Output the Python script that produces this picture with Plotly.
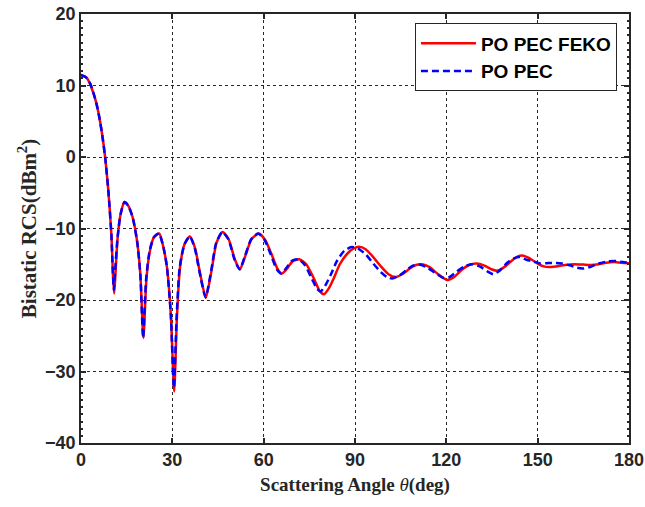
import plotly.graph_objects as go

# PO PEC FEKO (red, solid)
feko_theta = [0, 1, 2, 3, 4, 5, 6, 7, 8, 9, 10, 10.5, 10.9, 11.3, 12, 13, 14.3, 15.5, 17,
              18.5, 19.5, 20.5, 21.5, 22.7, 24, 25.7, 27, 28.2, 29.5, 30.6, 31.5, 32.5,
              34, 35.8, 37.5, 38.9, 41, 42.9, 44.5, 46.5, 48.5, 50.5, 52.2, 54, 56, 58.4,
              60.5, 62.5, 64.5, 66, 67.5, 69.5, 71.7, 74, 76.5, 78.5, 79.8, 81.5, 83, 85,
              87.5, 89.5, 91.3, 93.5, 96, 98.5, 101, 103.3, 105.5, 108, 110, 112, 114.5,
              117, 120.2, 122.5, 125, 127.5, 130, 132.5, 134.8, 136.8, 139, 141.5, 143.5,
              145.3, 147.5, 150, 152, 153.8, 156, 159, 162, 165, 167.5, 170, 172.5, 175,
              177.5, 180]
feko_rcs = [11.5, 11.3, 11.0, 10.2, 9.0, 7.6, 5.6, 3.0, -0.3, -4.8, -11.0, -16.5, -19.1,
            -16.5, -11.5, -8.0, -6.3, -6.8, -8.5, -12.0, -16.5, -25.3, -17.0, -13.0, -11.2,
            -10.7, -12.5, -15.3, -22.0, -32.8, -22.5, -15.5, -12.2, -11.1, -12.8, -15.8,
            -19.7, -15.8, -12.0, -10.5, -11.5, -14.3, -15.7, -13.8, -11.5, -10.7, -11.6,
            -13.5, -15.6, -16.3, -15.7, -14.6, -14.3, -15.0, -17.0, -18.8, -19.2, -18.3,
            -17.0, -15.0, -13.5, -12.8, -12.55, -12.9, -14.0, -15.3, -16.4, -16.8, -16.4,
            -15.6, -15.1, -15.0, -15.4, -16.3, -17.2, -16.8, -15.8, -15.1, -14.9, -15.2,
            -15.7, -15.9, -15.4, -14.5, -13.9, -13.8, -14.2, -14.9, -15.3, -15.4, -15.3,
            -15.1, -15.0, -15.05, -15.1, -15.0, -14.8, -14.7, -14.8, -14.85]

# PO PEC (blue, dashed)
po_theta = [0, 1, 2, 3, 4, 5, 6, 7, 8, 9, 10, 10.4, 10.8, 11.2, 12, 13, 14.3, 15.5, 17,
            18.5, 19.5, 20.4, 21.4, 22.6, 24, 25.6, 27, 28.2, 29.5, 30.5, 31.4, 32.4,
            34, 35.7, 37.4, 38.8, 40.9, 42.8, 44.4, 46.4, 48.4, 50.4, 52.1, 53.9, 55.9,
            58.2, 60.3, 62.3, 64.3, 65.8, 67.3, 69.3, 71.4, 73.5, 75.8, 77.5, 78.7, 80.2,
            82, 84, 86.5, 88.9, 91, 93.5, 96, 98.5, 100.5, 102.2, 104.5, 107, 109, 111,
            113.5, 116, 119, 121, 123.5, 126, 128.5, 131, 133.5, 135.4, 137.5, 140, 142,
            144.2, 146.5, 148.5, 151, 153, 155.5, 158, 160.5, 163, 165, 167.5, 170, 173,
            175.5, 178, 180]
po_rcs = [11.5, 11.3, 11.0, 10.3, 9.1, 7.6, 5.6, 3.0, -0.3, -4.8, -11.0, -15.5, -18.6,
          -16.0, -11.3, -8.0, -6.3, -6.8, -8.5, -12.0, -16.5, -25.3, -17.0, -13.0, -11.2,
          -10.7, -12.5, -15.3, -22.0, -32.3, -22.5, -15.5, -12.2, -11.1, -12.8, -15.8,
          -19.6, -15.8, -12.0, -10.5, -11.5, -14.3, -15.7, -13.8, -11.5, -10.7, -11.6,
          -13.6, -15.7, -16.3, -15.6, -14.5, -14.3, -15.1, -17.0, -18.4, -18.8, -18.0,
          -16.5, -14.6, -13.1, -12.6, -12.8, -13.6, -14.9, -16.1, -16.8, -17.0, -16.6,
          -15.8, -15.2, -15.05, -15.4, -16.1, -16.9, -16.8, -16.0, -15.3, -15.0, -15.3,
          -16.0, -16.4, -15.9, -14.8, -14.2, -14.0, -14.4, -14.6, -14.9, -14.85, -14.8,
          -14.9, -15.15, -15.5, -15.6, -15.35, -14.9, -14.6, -14.55, -14.7, -14.8]

tick_font = dict(family="Liberation Sans", size=18, color="#262626", weight="bold")

fig = go.Figure()

fig.add_trace(go.Scatter(
    x=feko_theta, y=feko_rcs, mode="lines", name="PO PEC FEKO",
    line=dict(color="#ff0000", width=2.5, shape="spline", smoothing=0.6)
))
fig.add_trace(go.Scatter(
    x=po_theta, y=po_rcs, mode="lines", name="PO PEC",
    line=dict(color="#0000ff", width=2.5, dash="7px,4px", shape="spline", smoothing=0.6)
))

axis_common = dict(
    showline=True, linecolor="#262626", linewidth=1.5, mirror="ticks",
    ticks="inside", ticklen=5, tickwidth=1.5, tickcolor="#262626",
    showgrid=True, gridcolor="#262626", gridwidth=1, griddash="dot",
    zeroline=False, tickfont=tick_font, automargin=False, ticklabeloverflow="allow",
)

fig.update_xaxes(
    range=[0, 180], tickmode="linear", tick0=0, dtick=30,
    title=dict(text="Scattering Angle <i style='font-weight:normal'>θ</i>(deg)",
               font=dict(family="Liberation Serif", size=19, color="#262626", weight="bold"),
               standoff=8),
    **axis_common
)
fig.update_yaxes(
    range=[-40, 20], tickmode="linear", tick0=-40, dtick=10,
    minor=dict(ticks="inside", ticklen=2, dtick=1, tickcolor="#262626", showgrid=False),
    title=dict(text="Bistatic RCS(dBm<sup>2</sup>)",
               font=dict(family="Liberation Serif", size=21, color="#262626", weight="bold"),
               standoff=3),
    **axis_common
)

fig.update_layout(
    width=645, height=507,
    margin=dict(l=81, r=16, t=14, b=64),
    plot_bgcolor="white", paper_bgcolor="white",
    showlegend=True,
    legend=dict(
        x=0.978, y=0.978, xanchor="right", yanchor="top",
        bgcolor="white", bordercolor="#262626", borderwidth=1,
        font=dict(family="Liberation Sans", size=19, color="black", weight="bold"),
        tracegroupgap=0, itemwidth=55,
    ),
)

# drop the default 8px page margin so the figure sits at the window corner
fig.write_html("out.html", config={"displayModeBar": False},
               post_script="document.body.style.margin='0';")
